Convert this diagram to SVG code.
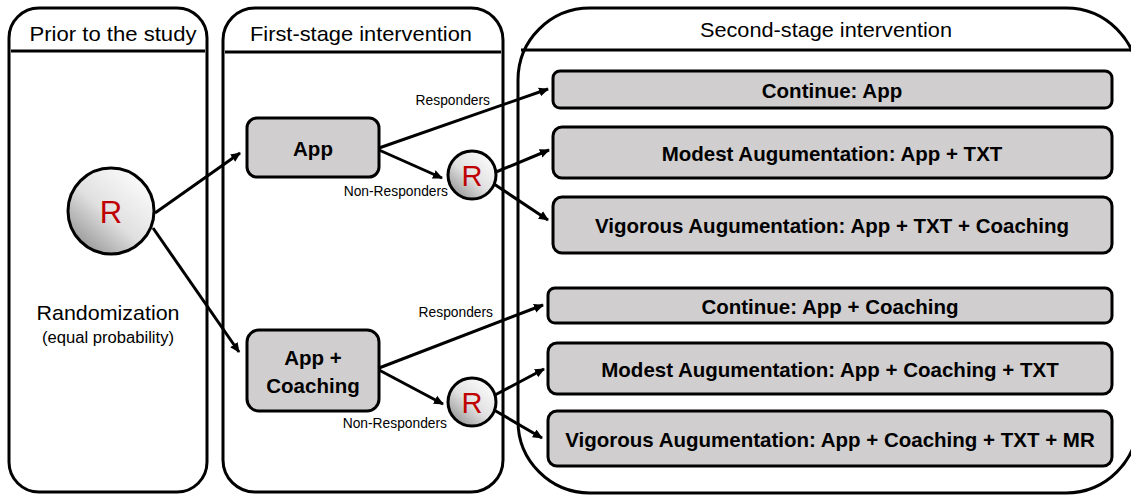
<svg xmlns="http://www.w3.org/2000/svg" width="1131" height="495" viewBox="0 0 1131 495">
<style>
.panel{fill:#fff;stroke:#000;stroke-width:3}
.hline{stroke:#000;stroke-width:3}
.title{font-family:"Liberation Sans",Arial,sans-serif;font-size:21px;fill:#000;text-anchor:middle}
.box{fill:#d0cece;stroke:#000;stroke-width:3}
.btxt{font-family:"Liberation Sans",Arial,sans-serif;font-size:20.5px;font-weight:bold;fill:#000;text-anchor:middle}
.circ{stroke:#000;stroke-width:3}
.rtxt{font-family:"Liberation Sans",Arial,sans-serif;fill:#c00000;text-anchor:middle}
.lbl{font-family:"Liberation Sans",Arial,sans-serif;font-size:13.8px;fill:#000;text-anchor:end}
.conn{stroke:#000;stroke-width:3;fill:none;marker-end:url(#ah)}
</style>
<defs>
<linearGradient id="g" x1="0.85" y1="0.1" x2="0.15" y2="0.9">
<stop offset="0" stop-color="#fbfbfb"/>
<stop offset="0.55" stop-color="#e0e0e0"/>
<stop offset="1" stop-color="#9a9a9a"/>
</linearGradient>
<marker id="ah" markerWidth="10" markerHeight="10" viewBox="0 0 10 10" refX="9" refY="5" orient="auto" markerUnits="userSpaceOnUse">
<path d="M0,0.5 L10,5 L0,9.5 Z" fill="#000"/>
</marker>
</defs>

<g id="panel-prior">
<rect class="panel" x="9" y="8" width="198" height="484" rx="30" ry="30"/>
<line class="hline" x1="11" y1="51" x2="205" y2="51"/>
<text class="title" x="113" y="41" textLength="167" lengthAdjust="spacingAndGlyphs">Prior to the study</text>
</g>
<g id="panel-first">
<rect class="panel" x="223" y="8" width="280" height="484" rx="32" ry="32"/>
<line class="hline" x1="225" y1="52" x2="501" y2="52"/>
<text class="title" x="361" y="41" textLength="222" lengthAdjust="spacingAndGlyphs">First-stage intervention</text>
</g>
<g id="panel-second">
<rect class="panel" x="518" y="8" width="620" height="485" rx="72" ry="72"/>
<line class="hline" x1="521" y1="50" x2="1131" y2="50"/>
<text class="title" x="826" y="37" textLength="252" lengthAdjust="spacingAndGlyphs">Second-stage intervention</text>
</g>

<g id="node-R0">
<circle class="circ" cx="111" cy="211" r="43" fill="url(#g)"/>
<text class="rtxt" x="111" y="223" font-size="31">R</text>
<text x="108" y="320" font-family="Liberation Sans,Arial,sans-serif" font-size="21" text-anchor="middle" textLength="143" lengthAdjust="spacingAndGlyphs">Randomization</text>
<text x="108" y="343" font-family="Liberation Sans,Arial,sans-serif" font-size="16" text-anchor="middle" textLength="132" lengthAdjust="spacingAndGlyphs">(equal probability)</text>
</g>

<g id="node-app">
<rect class="box" x="247" y="118" width="132" height="59" rx="10"/>
<text class="btxt" x="313" y="156">App</text>
</g>
<g id="node-appcoach">
<rect class="box" x="247" y="330" width="132" height="81" rx="12"/>
<text class="btxt" x="313" y="365">App +</text>
<text class="btxt" x="313" y="393">Coaching</text>
</g>

<g id="node-R1">
<circle class="circ" cx="472" cy="175" r="24" fill="url(#g)"/>
<text class="rtxt" x="472" y="186" font-size="29">R</text>
</g>
<g id="node-R2">
<circle class="circ" cx="472" cy="402" r="24" fill="url(#g)"/>
<text class="rtxt" x="472" y="413" font-size="29">R</text>
</g>

<g id="node-s1">
<rect class="box" x="553" y="71" width="559" height="37" rx="7"/>
<text class="btxt" x="832" y="98">Continue: App</text>
</g>
<g id="node-s2">
<rect class="box" x="553" y="127" width="559" height="51" rx="9"/>
<text class="btxt" x="832" y="161">Modest Augumentation: App + TXT</text>
</g>
<g id="node-s3">
<rect class="box" x="553" y="197" width="559" height="56" rx="9"/>
<text class="btxt" x="832" y="233">Vigorous Augumentation: App + TXT + Coaching</text>
</g>
<g id="node-s4">
<rect class="box" x="548" y="288" width="564" height="35" rx="7"/>
<text class="btxt" x="830" y="314">Continue: App + Coaching</text>
</g>
<g id="node-s5">
<rect class="box" x="548" y="343" width="564" height="51" rx="9"/>
<text class="btxt" x="830" y="377">Modest Augumentation: App + Coaching + TXT</text>
</g>
<g id="node-s6">
<rect class="box" x="548" y="411" width="564" height="55" rx="9"/>
<text class="btxt" x="830" y="447">Vigorous Augumentation: App + Coaching + TXT + MR</text>
</g>

<g id="connectors">
<line class="conn" x1="155" y1="213" x2="240" y2="153"/>
<line class="conn" x1="153" y1="228" x2="239" y2="352"/>
<line class="conn" x1="379" y1="148" x2="548" y2="89"/>
<line class="conn" x1="379" y1="150" x2="442" y2="178"/>
<line class="conn" x1="496" y1="172" x2="549" y2="150"/>
<line class="conn" x1="494" y1="184" x2="548" y2="220"/>
<line class="conn" x1="379" y1="368" x2="543" y2="305"/>
<line class="conn" x1="379" y1="370" x2="443" y2="404"/>
<line class="conn" x1="495" y1="395" x2="544" y2="369"/>
<line class="conn" x1="494" y1="410" x2="542" y2="438"/>
<text class="lbl" x="490" y="105">Responders</text>
<text class="lbl" x="448" y="196">Non-Responders</text>
<text class="lbl" x="493" y="317">Responders</text>
<text class="lbl" x="447" y="428">Non-Responders</text>
</g>
</svg>
